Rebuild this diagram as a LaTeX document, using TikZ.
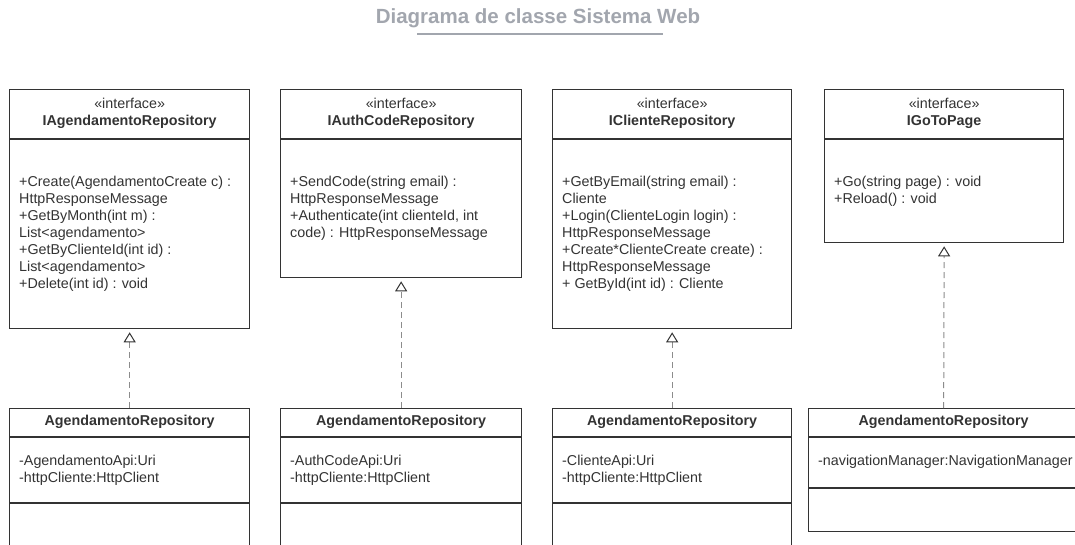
\documentclass[tikz,border=0pt]{standalone}
\usepackage{fontspec}
\setmainfont{Liberation Sans}
\usetikzlibrary{arrows.meta,calc}
\definecolor{ln}{HTML}{333333}
\definecolor{dl}{HTML}{8C8C8C}
\definecolor{tt}{HTML}{A2A6AE}
\begin{document}
\begin{tikzpicture}[x=1pt,y=-1pt,
  box/.style={draw=ln,line width=1.3pt,fill=white,inner sep=0pt,anchor=north west},
  div/.style={draw=ln,line width=1.3pt},
  body/.style={text=ln,font=\fontsize{14.3}{17}\selectfont,align=left,inner sep=0pt,anchor=west},
  stereo/.style={text=ln,font=\fontsize{14.3}{16}\selectfont,inner sep=0pt},
  cname/.style={text=ln,font=\bfseries\fontsize{14.3}{16}\selectfont,inner sep=0pt},
  real/.style={draw=dl,line width=1pt,dash pattern=on 6pt off 4pt,
    -{Triangle[length=10pt,width=12pt,fill=white,color=ln,line width=1pt]},shorten >=3pt}
]
\useasboundingbox (0,0) rectangle (1075,544);
\fill[white] (0,0) rectangle (1075,544);

% title
\node[font=\bfseries\fontsize{20.5}{24}\selectfont,text=tt,inner sep=0pt] (title) at (538,18) {Diagrama de classe Sistema Web};
\coordinate (ulA) at (417,34);
\coordinate (ulB) at (663,34);
\draw[tt,line width=1.5pt] (ulA) -- (ulB);

% interfaces
\node[box,minimum width=240pt,minimum height=239pt] (i1) at (9,89) {};
\node[box,minimum width=241pt,minimum height=188pt] (i2) at (280,89) {};
\node[box,minimum width=239pt,minimum height=239pt] (i3) at (552,89) {};
\node[box,minimum width=239pt,minimum height=153pt] (i4) at (824,89) {};
\foreach \n in {i1,i2,i3,i4}{
  \draw[div] ($(\n.north west)+(0,50)$) -- ($(\n.north east)+(0,50)$);
  \node[stereo] at ($(\n.north)+(0,14)$) {«interface»};
}
\node[cname] at ($(i1.north)+(0,33)$) {IAgendamentoRepository};
\node[cname] at ($(i2.north)+(0,33)$) {IAuthCodeRepository};
\node[cname] at ($(i3.north)+(0,33)$) {IClienteRepository};
\node[cname] at ($(i4.north)+(0,33)$) {IGoToPage};

\node[body] at ($(i1.west)+(10,25)$) {+Create(AgendamentoCreate c) :\\HttpResponseMessage\\+GetByMonth(int m) :\\List<agendamento>\\+GetByClienteId(int id) :\\List<agendamento>\\+Delete(int id) : void};
\node[body] at ($(i2.west)+(10,25)$) {+SendCode(string email) :\\HttpResponseMessage\\+Authenticate(int clienteId, int\\code) : HttpResponseMessage};
\node[body] at ($(i3.west)+(10,25)$) {+GetByEmail(string email) :\\Cliente\\+Login(ClienteLogin login) :\\HttpResponseMessage\\+Create*ClienteCreate create) :\\HttpResponseMessage\\+ GetById(int id) : Cliente};
\node[body] at ($(i4.west)+(10,25)$) {+Go(string page) : void\\+Reload() : void};

% classes
\node[box,minimum width=240pt,minimum height=160pt] (c1) at (9,408) {};
\node[box,minimum width=241pt,minimum height=160pt] (c2) at (280,408) {};
\node[box,minimum width=239pt,minimum height=160pt] (c3) at (552,408) {};
\node[box,minimum width=270pt,minimum height=123pt] (c4) at (808,408) {};
\foreach \n in {c1,c2,c3,c4}{
  \draw[div] ($(\n.north west)+(0,29)$) -- ($(\n.north east)+(0,29)$);
  \node[cname] at ($(\n.north)+(0,14)$) {AgendamentoRepository};
}
\foreach \n in {c1,c2,c3}{
  \draw[div] ($(\n.north west)+(0,95)$) -- ($(\n.north east)+(0,95)$);
}
\draw[div] ($(c4.north west)+(0,80)$) -- ($(c4.north east)+(0,80)$);

\node[body] at ($(c1.north west)+(10,62)$) {-AgendamentoApi:Uri\\-httpCliente:HttpClient};
\node[body] at ($(c2.north west)+(10,62)$) {-AuthCodeApi:Uri\\-httpCliente:HttpClient};
\node[body] at ($(c3.north west)+(10,62)$) {-ClienteApi:Uri\\-httpCliente:HttpClient};
\node[body] at ($(c4.north west)+(10,54)$) {-navigationManager:NavigationManager};

% realizations
\draw[real] (c1.north) -- (i1.south);
\draw[real] (c2.north) -- (i2.south);
\draw[real] (c3.north) -- (i3.south);
\draw[real] (c4.north) -- (i4.south);
\end{tikzpicture}
\end{document}
